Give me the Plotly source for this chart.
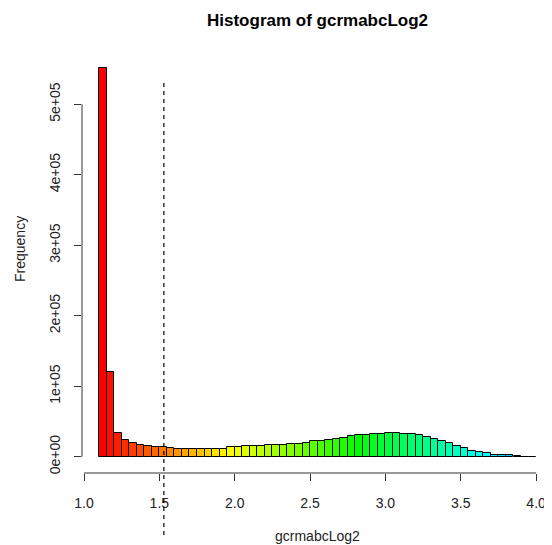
import colorsys
import numpy as np
import plotly.graph_objects as go

# ---- data ----
bin_start = 1.10
bin_width = 0.05
frequency = [551000, 120600, 34000, 23700, 19000, 17000, 15200, 13300, 13300, 11900,
             10900, 10500, 10500, 10500, 10500, 10500, 10500, 13300, 13300, 15200,
             15500, 15500, 17000, 17000, 17000, 18400, 18400, 19900, 21800, 21800,
             23200, 25000, 27000, 28900, 30800, 30800, 32200, 32200, 33600, 33600,
             32200, 32200, 30300, 27500, 25600, 22200, 19000, 15600, 11900, 8100,
             6200, 4700, 2800, 2800, 2800, 1400, 300, 200]
cutoff = 1.53
x_tick_vals = [1.0, 1.5, 2.0, 2.5, 3.0, 3.5, 4.0]
x_tick_text = ["1.0", "1.5", "2.0", "2.5", "3.0", "3.5", "4.0"]
y_tick_vals = [0, 100000, 200000, 300000, 400000, 500000]
y_tick_text = ["0e+00", "1e+05", "2e+05", "3e+05", "4e+05", "5e+05"]
title_text = "Histogram of gcrmabcLog2"
x_label = "gcrmabcLog2"
y_label = "Frequency"

n = len(frequency)
centers = bin_start + bin_width * (np.arange(n) + 0.5)
hue_end = 0.56
colors = []
for i in range(n):
    r, g, b = colorsys.hsv_to_rgb(hue_end * i / (n - 1), 1, 1)
    colors.append("rgb(%d,%d,%d)" % (round(r * 255), round(g * 255), round(b * 255)))

# page has an 8px body margin; work in page pixels and compensate
OFF = 8
PW, PH = 552, 545
W, H = PW - OFF, PH - OFF
left_px, right_px, top_px, bottom_px = 82, 552, 53, 473   # plot area in page pixels
ml = left_px - OFF
mr = PW - right_px
mt = top_px - OFF
mb = PH - bottom_px
px_per_x = 150.7
x0 = 1.0 - (84 - left_px) / px_per_x
x1 = x0 + (right_px - left_px) / px_per_x
y0, y1 = -23100, 572600

def xpaper(v):
    return (v - x0) / (x1 - x0)

def xpix_to_paper(p):
    return (p - left_px) / (right_px - left_px)

def ypix_to_paper(p):
    return (bottom_px - p) / (bottom_px - top_px)

fig = go.Figure()
fig.add_trace(go.Bar(x=centers, y=frequency, width=bin_width,
                     marker=dict(color=colors, line=dict(color="black", width=1)),
                     showlegend=False, hoverinfo="x+y"))

font_family = "Liberation Sans, Arial, sans-serif"
axis_col = "#333333"

shapes = [
    dict(type="line", xref="paper", yref="y", x0=0, x1=0, y0=0, y1=500000,
         line=dict(color=axis_col, width=1)),
    dict(type="line", xref="x", yref="paper", x0=1.0, x1=4.0, y0=0, y1=0,
         line=dict(color=axis_col, width=1)),
    dict(type="line", xref="paper", yref="paper", x0=xpaper(cutoff), x1=xpaper(cutoff),
         y0=ypix_to_paper(535), y1=ypix_to_paper(81),
         line=dict(color="black", width=1.2, dash="4px,4px")),
]

annotations = [
    dict(text="<b>" + title_text + "</b>", xref="paper", yref="paper",
         x=xpaper(2.55), y=ypix_to_paper(20), showarrow=False,
         font=dict(size=17, color="black", family=font_family),
         xanchor="center", yanchor="middle"),
    dict(text=x_label, xref="paper", yref="paper", x=xpaper(2.55),
         y=ypix_to_paper(536), showarrow=False,
         font=dict(size=14, color="#222", family=font_family),
         xanchor="center", yanchor="middle"),
    dict(text=y_label, xref="paper", yref="paper", x=xpix_to_paper(20),
         y=ypix_to_paper(249), showarrow=False, textangle=-90,
         font=dict(size=14, color="#222", family=font_family),
         xanchor="center", yanchor="middle"),
]

fig.update_layout(
    width=W, height=H,
    margin=dict(l=ml, r=mr, t=mt, b=mb, pad=0),
    paper_bgcolor="white", plot_bgcolor="white",
    bargap=0,
    font=dict(family=font_family, size=14, color="#222"),
    shapes=shapes, annotations=annotations,
    xaxis=dict(range=[x0, x1], showgrid=False, zeroline=False, showline=False,
               tickvals=x_tick_vals, ticktext=x_tick_text, ticks="outside",
               ticklen=7, tickcolor=axis_col, tickwidth=1,
               tickfont=dict(size=14, color="#222"), ticklabelstandoff=10),
    yaxis=dict(range=[y0, y1], showgrid=False, zeroline=False, showline=False,
               tickvals=y_tick_vals, ticktext=y_tick_text, ticks="outside",
               ticklen=7, tickcolor=axis_col, tickwidth=1, tickangle=-90,
               tickfont=dict(size=14, color="#222"), ticklabelstandoff=8),
)

fig.write_html("out.html")
